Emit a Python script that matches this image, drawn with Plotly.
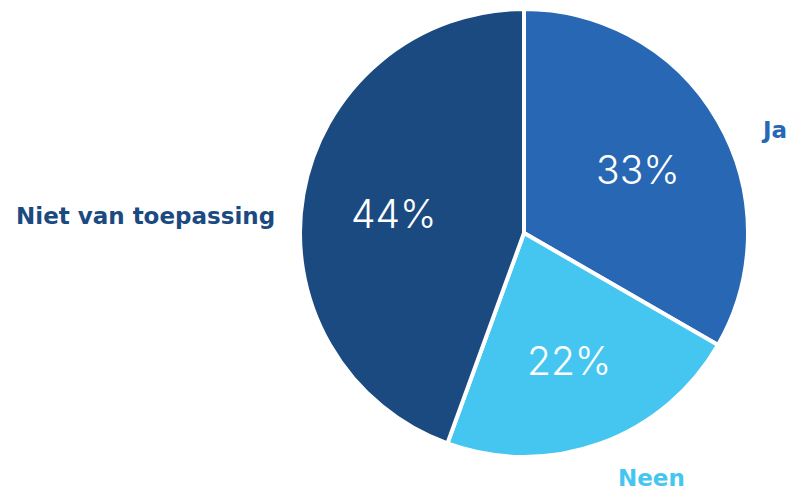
import math
import plotly.graph_objects as go

# Antwoorden en aandeel in procent
labels = ["Ja", "Neen", "Niet van toepassing"]
values = [33, 22, 44]
colors = ["#2767B3", "#44C6F1", "#1B4A80"]

W, H = 792, 493
cx, cy, r = 524, 233, 224

fig = go.Figure(
    go.Pie(
        labels=labels,
        values=values,
        sort=False,
        direction="clockwise",
        rotation=0,
        marker=dict(colors=colors, line=dict(color="white", width=4)),
        textinfo="none",
        hoverinfo="label+value",
        showlegend=False,
        domain=dict(
            x=[(cx - r) / W, (cx + r) / W],
            y=[1 - (cy + r) / H, 1 - (cy - r) / H],
        ),
    )
)

# Percentages binnen de taart, op het midden van elk segment
total = sum(values)
cum = 0
for v in values:
    mid = math.radians(90 - (cum + v / 2) / total * 360)
    cum += v
    px = cx + 0.59 * r * math.cos(mid)
    py = cy - 0.59 * r * math.sin(mid)
    fig.add_annotation(
        x=px / W, y=1 - py / H, text=f"{v}%", showarrow=False,
        xref="paper", yref="paper", xanchor="center", yanchor="middle",
        yshift=-3,
        font=dict(family="Inter", size=39, color="white", weight=300),
    )

# Categorielabels naast de taart
label_font = dict(family="DejaVu Sans", size=23, weight="bold")
positions = [(774, 130), (651, 478), (145, 216)]
for lab, col, (px, py) in zip(labels, colors, positions):
    fig.add_annotation(
        x=px / W, y=1 - py / H, text=lab, showarrow=False,
        xref="paper", yref="paper", xanchor="center", yanchor="middle",
        font=dict(**label_font, color=col),
    )

fig.update_layout(
    width=W,
    height=H,
    margin=dict(l=0, r=0, t=0, b=0),
    paper_bgcolor="white",
    plot_bgcolor="white",
)

fig.write_html("out.html")
